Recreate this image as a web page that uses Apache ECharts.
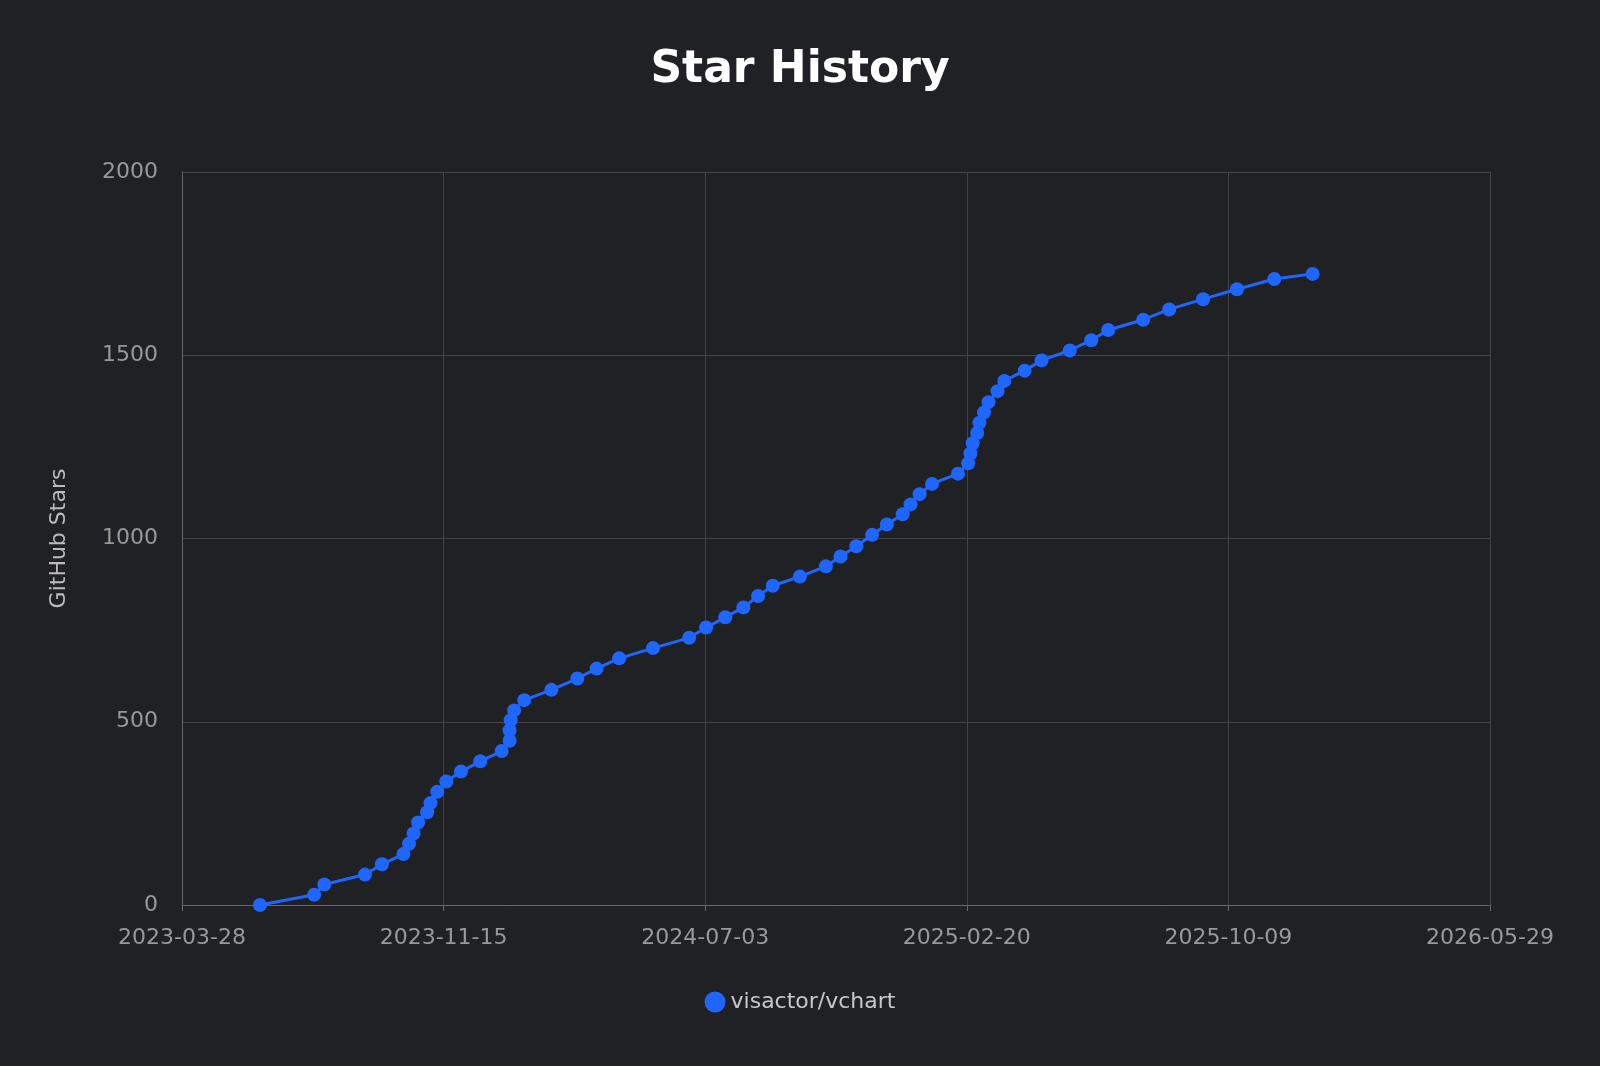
<!DOCTYPE html>
<html>
<head>
<meta charset="utf-8">
<script src="https://cdn.jsdelivr.net/npm/echarts@6/dist/echarts.min.js"></script>
<style>html,body{margin:0;background:#202124}#main{width:1600px;height:1066px}</style>
</head>
<body>
<div id="main"></div>
<script>
// days since 2023-03-28, and star counts at that day
var startDate = Date.UTC(2023, 2, 28);
var dayOffsets = [69,117,126,162,177,196,201,205,209,217,220,226,234,247,264,283,290,290,291,294,303,327,350,367,387,417,449,464,481,497,510,523,547,570,583,597,611,624,638,645,653,664,687,696,698,700,704,706,710,714,722,728,746,761,786,805,820,851,874,904,934,967,1001];
var stars = [0,28,56,83,111,139,167,195,225,253,278,309,337,364,392,420,448,476,504,531,559,587,618,645,673,701,729,757,785,812,843,871,896,924,951,979,1010,1038,1066,1093,1121,1149,1177,1205,1232,1260,1288,1316,1344,1372,1402,1430,1458,1486,1513,1541,1569,1597,1625,1653,1680,1708,1722];
var totalDays = 1158;
var tickDays = totalDays / 5;

var myChart = echarts.init(document.getElementById('main'));
var font = 'DejaVu Sans';

var option = {
    backgroundColor: '#202124',
    animation: false,
    title: {
        text: 'Star History',
        left: 'center',
        top: 44,
        textStyle: { color: '#ffffff', fontSize: 44, fontWeight: 'bold', fontFamily: font }
    },
    legend: {
        bottom: 48,
        left: 'center',
        icon: 'circle',
        itemWidth: 21,
        itemHeight: 21,
        textStyle: { color: '#c8c8c8', fontSize: 22, fontFamily: font },
        data: ['visactor/vchart']
    },
    grid: { left: 182, right: 110, top: 172, bottom: 161 },
    xAxis: {
        type: 'value',
        min: 0,
        max: totalDays,
        interval: tickDays,
        axisLine: { lineStyle: { color: '#666' } },
        axisTick: { show: true, length: 6, lineStyle: { color: '#666' } },
        splitLine: { show: true, lineStyle: { color: '#444' } },
        axisLabel: {
            color: '#999', fontSize: 22, fontFamily: font, margin: 22,
            formatter: function (v) {
                var d = new Date(startDate + Math.round(v) * 86400000);
                return d.toISOString().slice(0, 10);
            }
        }
    },
    yAxis: {
        type: 'value',
        min: 0,
        max: 2000,
        interval: 500,
        name: 'GitHub Stars',
        nameLocation: 'middle',
        nameGap: 112,
        nameTextStyle: { color: '#bbb', fontSize: 22, fontFamily: font },
        axisLine: { show: true, lineStyle: { color: '#666' } },
        axisTick: { show: false },
        splitLine: { show: true, lineStyle: { color: '#444' } },
        axisLabel: {
            color: '#999', fontSize: 22, fontFamily: font, margin: 24,
            formatter: function (v) { return String(v); }
        }
    },
    series: [{
        name: 'visactor/vchart',
        type: 'line',
        symbol: 'circle',
        symbolSize: 14,
        color: '#1f66ff',
        lineStyle: { width: 3, color: '#1f66ff' },
        itemStyle: { color: '#1f66ff' },
        data: dayOffsets.map(function (d, i) { return [d, stars[i]]; })
    }]
};
myChart.setOption(option);
</script>
</body>
</html>
